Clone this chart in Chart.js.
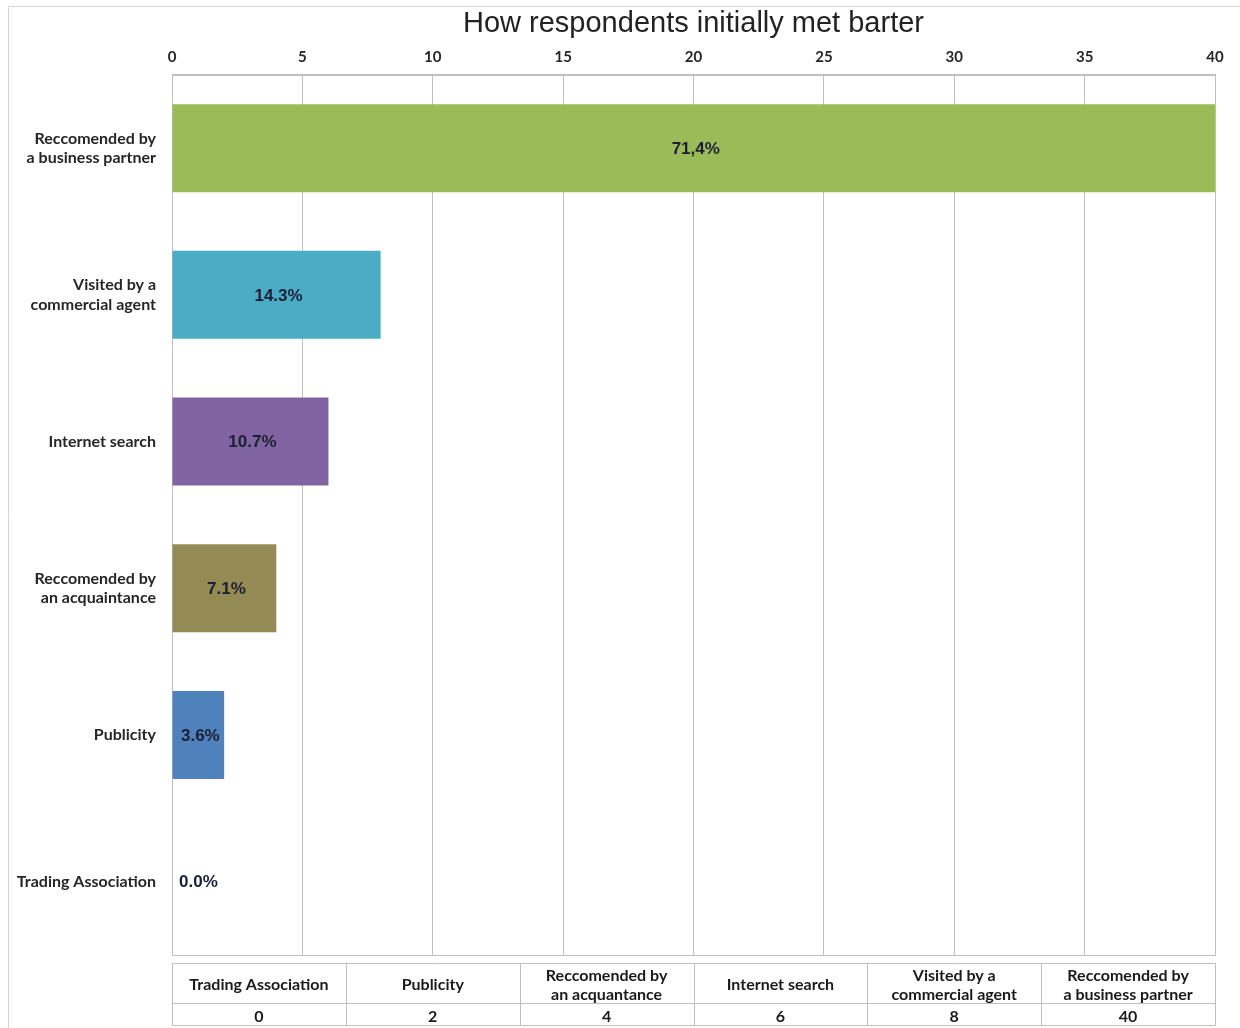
<!DOCTYPE html>
<html>
<head>
<meta charset="utf-8">
<script src="https://cdn.jsdelivr.net/npm/chart.js@4.4.1/dist/chart.umd.min.js"></script>
<style>
  html, body { margin: 0; padding: 0; background: #fff; }
  #wrap { position: relative; width: 1240px; height: 1028px; }
</style>
</head>
<body>
<div id="wrap"><canvas id="barterChart" width="1240" height="1028"></canvas></div>
<script>
// categories, bottom to top (the y axis is reversed, like the Excel original)
const axisLabels = [
  "Trading Association",
  "Publicity",
  ["Reccomended by", "an acquaintance"],
  "Internet search",
  ["Visited by a", "commercial agent"],
  ["Reccomended by", "a business partner"]
];
// the data table under the chart spells one of them differently
const tableLabels = [
  ["Trading Association"],
  ["Publicity"],
  ["Reccomended by", "an acquantance"],
  ["Internet search"],
  ["Visited by a", "commercial agent"],
  ["Reccomended by", "a business partner"]
];
const respondents = [0, 2, 4, 6, 8, 40];
const percentLabels = ["0.0%", "3.6%", "7.1%", "10.7%", "14.3%", "71,4%"];
const barColors = ["#4F81BD", "#4F81BD", "#948A54", "#8064A2", "#4BACC6", "#9BBB59"];
const xTicks = [0, 5, 10, 15, 20, 25, 30, 35, 40];

const gridColor = "#bfbfbf";
const labelFont = '"Lato", "Open Sans", sans-serif';

// frame, data labels and data table
const extras = {
  id: "extras",
  beforeDraw(chart) {
    const ctx = chart.ctx;
    ctx.save();
    ctx.strokeStyle = "#d4d4d4";
    ctx.lineWidth = 1;
    ctx.beginPath();
    ctx.moveTo(8.5, 1028);
    ctx.lineTo(8.5, 6.5);
    ctx.lineTo(1240, 6.5);
    ctx.stroke();
    ctx.restore();
  },
  beforeDatasetsDraw(chart) {
    const { ctx, chartArea: a } = chart;
    ctx.save();
    ctx.strokeStyle = gridColor;
    ctx.lineWidth = 1;
    ctx.strokeRect(Math.round(a.left) + 0.5, Math.round(a.top) + 0.5,
      Math.round(a.right - a.left), Math.round(a.bottom - a.top));
    ctx.restore();
  },
  afterDatasetsDraw(chart) {
    const ctx = chart.ctx;
    const meta = chart.getDatasetMeta(0);
    ctx.save();
    ctx.font = 'bold 17px "Liberation Sans", Arial, sans-serif';
    ctx.fillStyle = "#1c1f33";
    ctx.textBaseline = "middle";
    meta.data.forEach((bar, i) => {
      if (respondents[i] === 0) {
        ctx.textAlign = "left";
        ctx.fillText(percentLabels[i], bar.base + 7, bar.y + 1);
      } else {
        ctx.textAlign = "center";
        ctx.fillText(percentLabels[i], (bar.x + bar.base) / 2 + 2, bar.y + 1);
      }
    });
    ctx.restore();
  },
  afterDraw(chart) {
    const { ctx, chartArea: a } = chart;
    const top = 963, mid = 1003, bottom = 1025;
    const colW = (a.right - a.left) / tableLabels.length;
    ctx.save();
    ctx.strokeStyle = gridColor;
    ctx.lineWidth = 1;
    ctx.beginPath();
    ctx.rect(Math.round(a.left) + 0.5, top + 0.5, Math.round(a.right - a.left), bottom - top);
    ctx.moveTo(a.left, mid + 0.5);
    ctx.lineTo(a.right, mid + 0.5);
    for (let i = 1; i < tableLabels.length; i++) {
      const x = Math.round(a.left + colW * i) + 0.5;
      ctx.moveTo(x, top);
      ctx.lineTo(x, bottom);
    }
    ctx.stroke();

    ctx.fillStyle = "#1a1a1a";
    ctx.font = "bold 16px " + labelFont;
    ctx.textAlign = "center";
    ctx.textBaseline = "middle";
    tableLabels.forEach((lines, i) => {
      const cx = a.left + colW * (i + 0.5);
      const cy = (top + mid) / 2 + 2;
      lines.forEach((line, j) => {
        ctx.fillText(line, cx, cy + (j - (lines.length - 1) / 2) * 19);
      });
      ctx.fillText(String(respondents[i]), cx, (mid + bottom) / 2 + 3);
    });
    ctx.restore();
  }
};

new Chart(document.getElementById("barterChart"), {
  type: "bar",
  data: {
    labels: axisLabels,
    datasets: [{
      label: "Respondents",
      data: respondents,
      backgroundColor: barColors,
      borderWidth: 0,
      barPercentage: 0.6,
      categoryPercentage: 1.0
    }]
  },
  options: {
    indexAxis: "y",
    responsive: false,
    animation: false,
    layout: { padding: { top: 4, left: 8, right: 25, bottom: 73 } },
    plugins: {
      legend: { display: false },
      tooltip: { enabled: false },
      title: {
        display: true,
        text: "How respondents initially met barter",
        fullSize: false,
        color: "#222",
        font: { family: '"Liberation Sans", Arial, sans-serif', size: 29, weight: "normal", lineHeight: 1.2 },
        padding: { top: 3, bottom: 0 }
      }
    },
    scales: {
      x: {
        position: "top",
        min: 0,
        max: 40,
        afterBuildTicks(scale) { scale.ticks = xTicks.map(v => ({ value: v })); },
        afterFit(scale) { scale.height = 33; },
        grid: { color: gridColor, drawTicks: false },
        border: { display: true, color: gridColor },
        ticks: {
          padding: 9,
          color: "#262626",
          font: { family: labelFont, size: 15, weight: "bold" }
        }
      },
      y: {
        reverse: true,
        afterFit(scale) { scale.width = 164; },
        grid: { display: false, drawTicks: false },
        border: { display: false },
        ticks: {
          padding: 16,
          color: "#262626",
          font: { family: labelFont, size: 16, weight: "bold", lineHeight: 1.2 }
        }
      }
    }
  },
  plugins: [extras]
});
</script>
</body>
</html>
